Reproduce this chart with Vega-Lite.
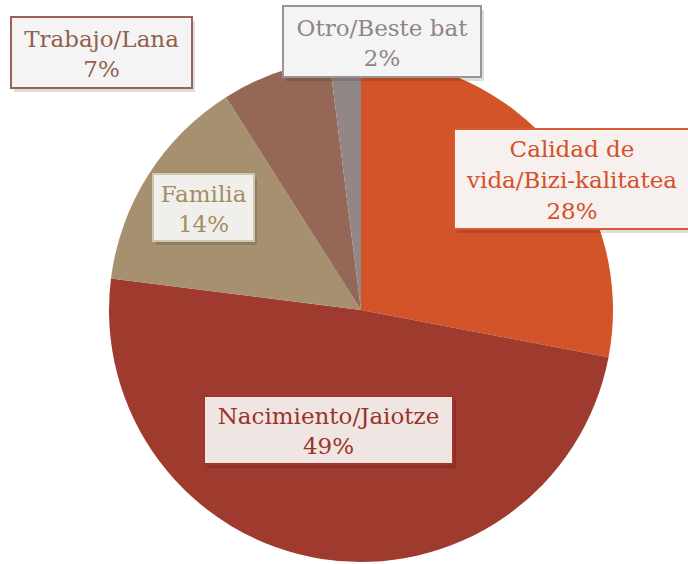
{
  "$schema": "https://vega.github.io/schema/vega-lite/v6.json",
  "width": 654,
  "height": 508,
  "autosize": {"type": "none"},
  "padding": {"left": 34, "top": 56, "right": 0, "bottom": 0},
  "background": "#ffffff",
  "config": {"view": {"stroke": null}},
  "data": {
    "values": [
      {"categoria": "Calidad de vida/Bizi-kalitatea", "etiqueta": ["Calidad de", "vida/Bizi-kalitatea", "28%"], "valor": 28, "orden": 1},
      {"categoria": "Nacimiento/Jaiotze", "etiqueta": ["Nacimiento/Jaiotze", "49%"], "valor": 49, "orden": 2},
      {"categoria": "Familia", "etiqueta": ["Familia", "14%"], "valor": 14, "orden": 3},
      {"categoria": "Trabajo/Lana", "etiqueta": ["Trabajo/Lana", "7%"], "valor": 7, "orden": 4},
      {"categoria": "Otro/Beste bat", "etiqueta": ["Otro/Beste bat", "2%"], "valor": 2, "orden": 5}
    ]
  },
  "encoding": {
    "x": {"field": "orden", "type": "quantitative", "axis": null, "scale": {"type": "linear", "zero": false, "nice": false, "domain": [1, 2, 3, 4, 5], "range": [538, 294.5, 169.5, 67.5, 348]}},
    "y": {"field": "orden", "type": "quantitative", "axis": null, "scale": {"type": "linear", "zero": false, "nice": false, "domain": [1, 2, 3, 4, 5], "range": [123, 374, 151.5, -3.5, -14.5]}}
  },
  "layer": [
    {
      "mark": {"type": "arc", "outerRadius": 252},
      "encoding": {
        "x": null,
        "y": null,
        "theta": {"field": "valor", "type": "quantitative", "stack": true},
        "order": {"field": "orden", "type": "quantitative"},
        "color": {
          "field": "categoria", "type": "nominal", "legend": null,
          "scale": {
            "domain": ["Calidad de vida/Bizi-kalitatea", "Nacimiento/Jaiotze", "Familia", "Trabajo/Lana", "Otro/Beste bat"],
            "range": ["#D35428", "#9E3A2E", "#A69070", "#956757", "#928787"]
          }
        }
      }
    },
    {
      "transform": [{"filter": "datum.orden == 1"}],
      "mark": {"type": "point", "filled": true, "opacity": 0.13, "size": 4, "xOffset": 3, "yOffset": 4, "shape": "M-118,-50H118V50H-118Z", "fill": "#000000", "strokeWidth": 0}
    },
    {
      "transform": [{"filter": "datum.orden == 2"}],
      "mark": {"type": "point", "filled": true, "opacity": 0.13, "size": 4, "xOffset": 3, "yOffset": 4, "shape": "M-124.5,-34H124.5V34H-124.5Z", "fill": "#000000", "strokeWidth": 0}
    },
    {
      "transform": [{"filter": "datum.orden == 3"}],
      "mark": {"type": "point", "filled": true, "opacity": 0.13, "size": 4, "xOffset": 3, "yOffset": 4, "shape": "M-50.5,-33.5H50.5V33.5H-50.5Z", "fill": "#000000", "strokeWidth": 0}
    },
    {
      "transform": [{"filter": "datum.orden == 4"}],
      "mark": {"type": "point", "filled": true, "opacity": 0.13, "size": 4, "xOffset": 3, "yOffset": 4, "shape": "M-90.5,-35.5H90.5V35.5H-90.5Z", "fill": "#000000", "strokeWidth": 0}
    },
    {
      "transform": [{"filter": "datum.orden == 5"}],
      "mark": {"type": "point", "filled": true, "opacity": 0.13, "size": 4, "xOffset": 3, "yOffset": 4, "shape": "M-99,-35.5H99V35.5H-99Z", "fill": "#000000", "strokeWidth": 0}
    },
    {
      "transform": [{"filter": "datum.orden == 1"}],
      "mark": {"type": "point", "filled": true, "opacity": 1, "size": 4, "shape": "M-118,-50H118V50H-118Z", "fill": "#F6F1EE", "stroke": "#D85A30", "strokeWidth": 2}
    },
    {
      "transform": [{"filter": "datum.orden == 2"}],
      "mark": {"type": "point", "filled": true, "opacity": 1, "size": 4, "shape": "M-124.5,-34H124.5V34H-124.5Z", "fill": "#EFE6E4", "stroke": "#A3342A", "strokeWidth": 2}
    },
    {
      "transform": [{"filter": "datum.orden == 3"}],
      "mark": {"type": "point", "filled": true, "opacity": 1, "size": 4, "shape": "M-50.5,-33.5H50.5V33.5H-50.5Z", "fill": "#F1EFEB", "stroke": "#CFC6B2", "strokeWidth": 2}
    },
    {
      "transform": [{"filter": "datum.orden == 4"}],
      "mark": {"type": "point", "filled": true, "opacity": 1, "size": 4, "shape": "M-90.5,-35.5H90.5V35.5H-90.5Z", "fill": "#F5F4F4", "stroke": "#9B6354", "strokeWidth": 2}
    },
    {
      "transform": [{"filter": "datum.orden == 5"}],
      "mark": {"type": "point", "filled": true, "opacity": 1, "size": 4, "shape": "M-99,-35.5H99V35.5H-99Z", "fill": "#F4F4F4", "stroke": "#9C9494", "strokeWidth": 2}
    },
    {
      "transform": [{"filter": "datum.orden == 1"}],
      "mark": {"type": "text", "font": "DejaVu Serif", "fontSize": 23, "lineHeight": 31, "dy": -29},
      "encoding": {
        "text": {"field": "etiqueta"},
        "fill": {
          "field": "categoria", "type": "nominal", "legend": null,
          "scale": {
            "domain": ["Calidad de vida/Bizi-kalitatea", "Nacimiento/Jaiotze", "Familia", "Trabajo/Lana", "Otro/Beste bat"],
            "range": ["#D4502A", "#9C3327", "#A38D64", "#93604F", "#8F8585"]
          }
        }
      }
    },
    {
      "transform": [{"filter": "datum.orden != 1"}],
      "mark": {"type": "text", "font": "DejaVu Serif", "fontSize": 23, "lineHeight": 30, "dy": -13},
      "encoding": {
        "text": {"field": "etiqueta"},
        "fill": {
          "field": "categoria", "type": "nominal", "legend": null,
          "scale": {
            "domain": ["Calidad de vida/Bizi-kalitatea", "Nacimiento/Jaiotze", "Familia", "Trabajo/Lana", "Otro/Beste bat"],
            "range": ["#D4502A", "#9C3327", "#A38D64", "#93604F", "#8F8585"]
          }
        }
      }
    }
  ]
}
